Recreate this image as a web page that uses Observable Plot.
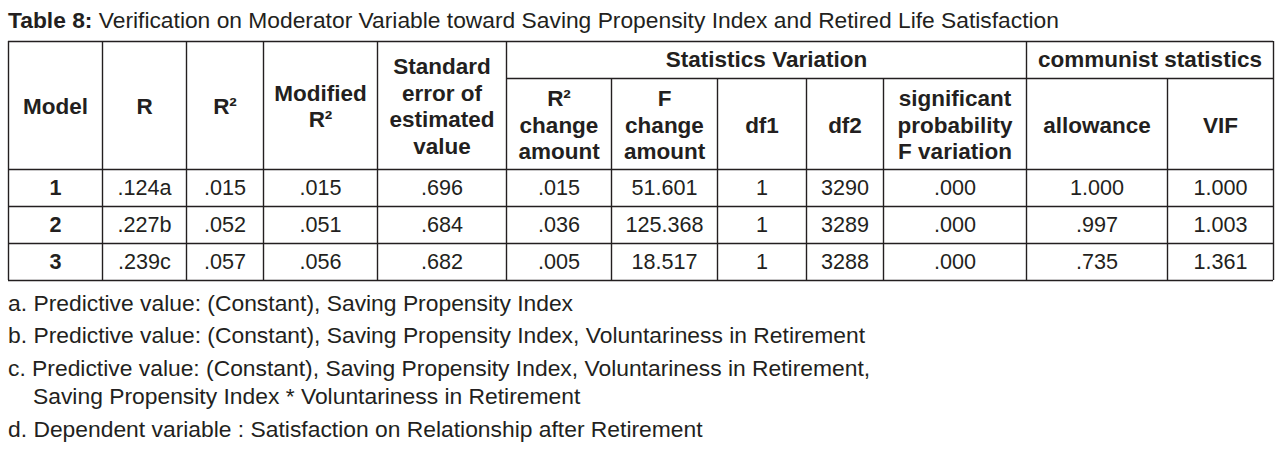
<!DOCTYPE html>
<html><head><meta charset="utf-8">
<script src="https://cdn.jsdelivr.net/npm/d3@7"></script>
<script src="https://cdn.jsdelivr.net/npm/@observablehq/plot@0.6"></script>
<style>
html,body{margin:0;padding:0;background:#fff;}
body{width:1284px;height:454px;overflow:hidden;font-family:"Liberation Sans",Arial,sans-serif;color:#231f20;}
#title{height:40px;line-height:40px;font-size:22.8px;padding-left:8px;white-space:nowrap;}
#notes{position:relative;height:170px;font-size:22.85px;}
#notes div{position:absolute;white-space:nowrap;line-height:24px;}
#chart svg{display:block;}
</style></head><body>
<div id="title"><b>Table 8:</b> Verification on Moderator Variable toward Saving Propensity Index and Retired Life Satisfaction</div>
<div id="chart"></div>
<div id="notes"></div>
<script>
// ---- data ----
const models = ["1", "2", "3"];
const R = [".124a", ".227b", ".239c"];
const R2 = [".015", ".052", ".057"];
const modifiedR2 = [".015", ".051", ".056"];
const stdError = [".696", ".684", ".682"];
const r2Change = [".015", ".036", ".005"];
const fChange = ["51.601", "125.368", "18.517"];
const df1 = ["1", "1", "1"];
const df2 = ["3290", "3289", "3288"];
const sigF = [".000", ".000", ".000"];
const allowance = ["1.000", ".997", ".735"];
const vif = ["1.000", "1.003", "1.361"];

const leafHeaders = ["Model", "R", "R²", "Modified\nR²", "Standard\nerror of\nestimated\nvalue",
  "R²\nchange\namount", "F\nchange\namount", "df1", "df2", "significant\nprobability\nF variation",
  "allowance", "VIF"];
const groupHeaders = ["Statistics Variation", "communist statistics"];
const footnotes = [
  "a. Predictive value: (Constant), Saving Propensity Index",
  "b. Predictive value: (Constant), Saving Propensity Index, Voluntariness in Retirement",
  "c. Predictive value: (Constant), Saving Propensity Index, Voluntariness in Retirement,",
  "Saving Propensity Index * Voluntariness in Retirement",
  "d. Dependent variable : Satisfaction on Relationship after Retirement"
];

// ---- layout ----
const colEdges = [8, 102, 186, 263, 377, 506, 611, 717, 806, 883, 1026, 1167, 1273];
const yTop = 41, ySub = 78, yHead = 169;
const rowEdges = [169, 206, 243, 280];
const groupSpans = [[5, 10], [10, 12]];
const ink = "#231f20";
const font = "'Liberation Sans', Arial, sans-serif";

const columns = [models, R, R2, modifiedR2, stdError, r2Change, fChange, df1, df2, sigF, allowance, vif];
const mid = (a, b) => (a + b) / 2;

const bodyCells = [];
columns.forEach((col, j) => col.forEach((t, i) => bodyCells.push({
  x: mid(colEdges[j], colEdges[j + 1]), y: mid(rowEdges[i], rowEdges[i + 1]), t, bold: j === 0
})));
const leafCells = leafHeaders.map((t, j) => ({
  x: mid(colEdges[j], colEdges[j + 1]), y: mid(j < 5 ? yTop : ySub, yHead), t
}));
const groupCells = groupHeaders.map((t, k) => ({
  x: mid(colEdges[groupSpans[k][0]], colEdges[groupSpans[k][1]]), y: mid(yTop, ySub), t
}));

const hLines = [
  {x1: colEdges[0], x2: colEdges[12], y: yTop},
  {x1: colEdges[5], x2: colEdges[12], y: ySub},
  ...rowEdges.map(y => ({x1: colEdges[0], x2: colEdges[12], y}))
];
const vLines = colEdges.map((x, j) => ({
  x, y1: (j <= 5 || j === 10 || j === 12) ? yTop : ySub, y2: rowEdges[3]
}));

const chart = Plot.plot({
  width: 1284, height: 244, margin: 0,
  x: {domain: [0, 1284], range: [0, 1284], axis: null},
  y: {domain: [40, 284], range: [0, 244], axis: null},
  style: {background: "#fff", fontFamily: font, color: ink},
  marks: [
    Plot.ruleY(hLines, {x1: "x1", x2: "x2", y: "y", stroke: ink, strokeWidth: 1.4}),
    Plot.ruleX(vLines, {x: "x", y1: "y1", y2: "y2", stroke: ink, strokeWidth: 1.4}),
    Plot.text(bodyCells.filter(d => !d.bold), {x: "x", y: "y", text: "t", fontSize: 21.6, fill: ink, fontFamily: font}),
    Plot.text(bodyCells.filter(d => d.bold), {x: "x", y: "y", text: "t", fontSize: 21.6, fontWeight: "bold", fill: ink, fontFamily: font}),
    Plot.text(leafCells, {x: "x", y: "y", text: "t", fontSize: 22.5, fontWeight: "bold", lineHeight: 26.8 / 22.5, fill: ink, fontFamily: font}),
    Plot.text(groupCells, {x: "x", y: "y", text: "t", fontSize: 22.5, fontWeight: "bold", fill: ink, fontFamily: font})
  ]
});
document.getElementById("chart").appendChild(chart);

// footnotes
const noteTops = [7, 39, 72, 100, 133];
const noteLefts = [8, 8, 8, 33, 8];
const notes = document.getElementById("notes");
footnotes.forEach((t, i) => {
  const d = document.createElement("div");
  d.textContent = t;
  d.style.top = noteTops[i] + "px";
  d.style.left = noteLefts[i] + "px";
  notes.appendChild(d);
});
</script>
</body></html>
